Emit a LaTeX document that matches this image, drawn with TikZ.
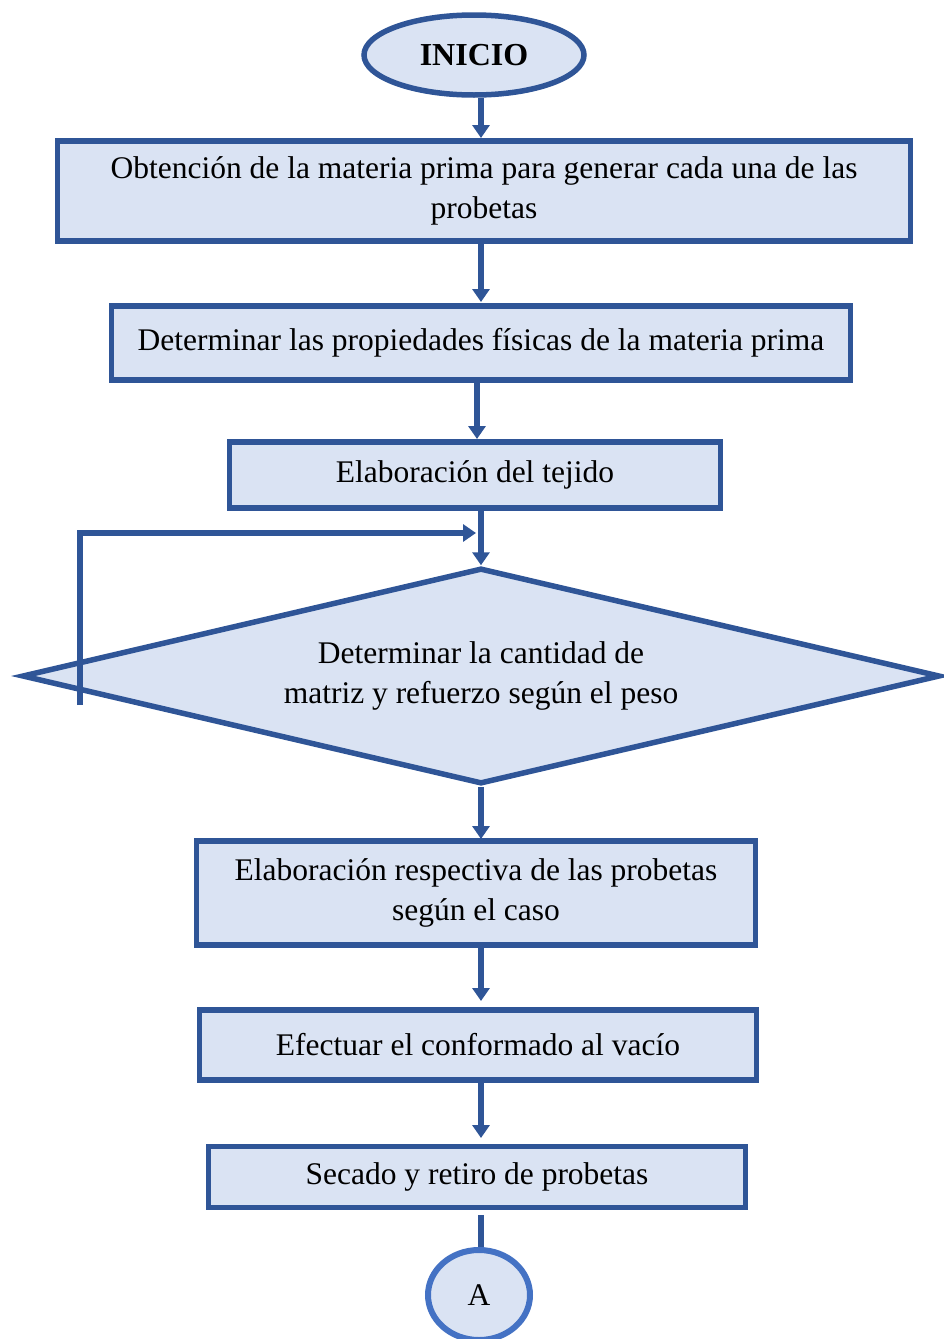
\documentclass[tikz,border=0pt]{standalone}
\usepackage{fontspec}
\setmainfont{Liberation Serif}
\usetikzlibrary{arrows.meta,shapes.geometric,calc}
\definecolor{bord}{HTML}{2F5597}
\definecolor{bordc}{HTML}{4472C4}
\definecolor{fillb}{HTML}{DAE3F3}
\tikzset{
  boxst/.style={draw=bord,fill=fillb,line width=5.5pt,rectangle,align=center,inner sep=0pt,font=\fontsize{31.5}{40}\selectfont},
  arr/.style={draw=bord,line width=5.5pt,-{Triangle[length=13pt,width=17pt]}},
  lin/.style={draw=bord,line width=5.5pt},
}
\begin{document}
\begin{tikzpicture}[x=1pt,y=-1pt]
\useasboundingbox (0,0) rectangle (943,1339);
\node[ellipse,draw=bord,fill=fillb,line width=5.5pt,minimum width=220pt,minimum height=80pt,inner sep=0pt,font=\fontsize{32}{36}\selectfont\bfseries] (inicio) at (474,55) {INICIO};
\node[boxst,minimum width=853pt,minimum height=100pt] (b1) at (484,191) {Obtención de la materia prima para generar cada una de las\\probetas};
\node[boxst,minimum width=739pt,minimum height=74pt] (b2) at (481,343) {Determinar las propiedades físicas de la materia prima};
\node[boxst,minimum width=491pt,minimum height=66pt] (b3) at (475,475) {Elaboración del tejido};
\node[diamond,draw=bord,fill=fillb,line width=5.5pt,minimum width=918pt,minimum height=216pt,aspect=4.25,inner sep=0pt,align=center,font=\fontsize{31.5}{40}\selectfont] (d) at (481,676) {Determinar la cantidad de\\matriz y refuerzo según el peso};
\node[boxst,minimum width=559pt,minimum height=104pt] (b4) at (476,893) {Elaboración respectiva de las probetas\\según el caso};
\node[boxst,minimum width=557pt,minimum height=70pt] (b5) at (478,1045) {Efectuar el conformado al vacío};
\node[boxst,minimum width=537pt,minimum height=61pt] (b6) at (477,1177) {Secado y retiro de probetas};
\node[ellipse,draw=bordc,fill=fillb,line width=6pt,minimum width=102pt,minimum height=90pt,inner sep=0pt,font=\fontsize{31.5}{36}\selectfont] (a) at (479,1295) {A};
\draw[arr] (inicio.south -| 481,0) -- (481,138);
\draw[arr] (b1.south -| 481,0) -- (481,302);
\draw[arr] (b2.south -| 477,0) -- (477,439);
\draw[arr] (b3.south -| 481,0) -- (d.north);
\coordinate (lp) at (80,705);
\coordinate (lt) at (476,533);
\draw[arr] (lp) |- (lt);
\draw[arr] (d.south) -- (481,839);
\draw[arr] (b4.south -| 481,0) -- (481,1001);
\draw[arr] (b5.south -| 481,0) -- (481,1138);
\coordinate (gs) at (481,1215);
\draw[lin] (gs) -- (a.north -| gs);
\end{tikzpicture}
\end{document}
